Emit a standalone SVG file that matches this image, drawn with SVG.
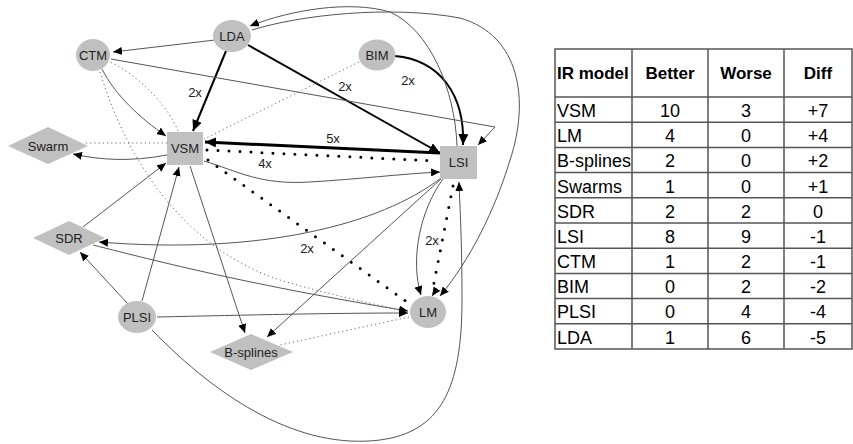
<svg xmlns="http://www.w3.org/2000/svg" width="853" height="444" viewBox="0 0 853 444">
<style>
.n{fill:#c0c0c0;stroke:none}
.nt{font-family:"Liberation Sans",Arial,sans-serif;font-size:13px;fill:#222;text-anchor:middle}
.lb{font-family:"Liberation Sans",Arial,sans-serif;font-size:13px;fill:#222;text-anchor:middle}
.e{fill:none;stroke:#555;stroke-width:1}
.eb{fill:none;stroke:#000;stroke-width:2}
.eb3{fill:none;stroke:#000;stroke-width:3}
.ed{fill:none;stroke:#666;stroke-width:1;stroke-dasharray:1.2 3}
.edb{fill:none;stroke:#000;stroke-width:3;stroke-dasharray:0 11;stroke-linecap:round}
.tg{stroke:#555;stroke-width:1.5;fill:none}
.th{font-family:"Liberation Sans",Arial,sans-serif;font-size:17px;font-weight:bold;fill:#000}
.td{font-family:"Liberation Sans",Arial,sans-serif;font-size:18px;fill:#000}
.c{text-anchor:middle}
</style>
<defs>
<marker id="a" markerUnits="userSpaceOnUse" markerWidth="10" markerHeight="8" refX="9" refY="4" orient="auto"><path d="M0,0 L9,4 L0,8 z" fill="#000"/></marker>
<marker id="ab" markerUnits="userSpaceOnUse" markerWidth="12" markerHeight="10" refX="11" refY="5" orient="auto"><path d="M0,0 L11,5 L0,10 z" fill="#000"/></marker>
</defs>
<rect width="853" height="444" fill="#fff"/>
<g id="edges">
<path class="e" d="M215,40 L113,52" marker-end="url(#a)"/>
<path class="eb" d="M226,51 L193,131" marker-end="url(#ab)"/>
<path class="eb" d="M248,45 L440,153" marker-end="url(#ab)"/>
<path class="eb" d="M395,56 C440,60 465,95 463,145" marker-end="url(#ab)"/>
<path class="ed" d="M359,62 L204,139"/>
<path class="e" d="M111,59 L495,127 L478,145" marker-end="url(#a)"/>
<path class="e" d="M102,69 C115,95 140,118 166,136" marker-end="url(#a)"/>
<path class="ed" d="M111,62 C145,80 170,110 178,131"/>
<path class="ed" d="M100,72 C130,170 190,250 280,280 C330,295 380,305 407,312"/>
<path class="ed" d="M167,143 L84,143"/>
<path class="e" d="M167,155 C130,162 100,160 73,154" marker-end="url(#a)"/>
<path class="eb3" d="M440,153 L205,142" marker-end="url(#ab)"/>
<path class="edb" d="M207,150 L437,161"/>
<path class="e" d="M204,161 C240,172 260,185 310,182 C360,179 400,174 440,172" marker-end="url(#a)"/>
<path class="edb" d="M208,160 L407,302"/>
<path class="e" d="M190,166 L245,333" marker-end="url(#a)"/>
<path class="e" d="M142,301 L179,167" marker-end="url(#a)"/>
<path class="e" d="M83,227 L166,163" marker-end="url(#a)"/>
<path class="e" d="M128,304 L80,252" marker-end="url(#a)"/>
<path class="e" d="M157,317 C250,315 330,313 408,313" marker-end="url(#a)"/>
<path class="e" d="M93,245 C160,262 250,285 408,311" marker-end="url(#a)"/>
<path class="e" d="M152,330 C220,400 300,450 380,440 C440,432 462,390 462,300 C462,240 460,210 459,182" marker-end="url(#a)"/>
<path class="e" d="M443,179 C420,210 410,260 421,295" marker-end="url(#a)"/>
<path class="edb" d="M453,186 L433,288"/>
<path class="e" d="M436,290 L432,296" marker-end="url(#a)"/>
<path class="e" d="M252,30 C300,15 390,5 460,18 C520,35 530,100 510,160 C495,210 470,260 440,296" marker-end="url(#a)"/>
<path class="e" d="M457,146 C455,90 430,30 390,12 C350,0 290,10 250,26" marker-end="url(#a)"/>
<path class="e" d="M441,179 L267,337" marker-end="url(#a)"/>
<path class="e" d="M441,178 C380,225 260,255 99,242" marker-end="url(#a)"/>
<path class="ed" d="M409,317 L280,345"/>
<text class="lb" x="195" y="97">2x</text>
<text class="lb" x="345" y="91">2x</text>
<text class="lb" x="408" y="85">2x</text>
<text class="lb" x="333" y="143">5x</text>
<text class="lb" x="265" y="168">4x</text>
<text class="lb" x="307" y="253">2x</text>
<text class="lb" x="432" y="245">2x</text>
</g>
<g id="LDA"><ellipse class="n" cx="232" cy="36" rx="19" ry="16"/><text class="nt" x="232" y="41">LDA</text></g>
<g id="CTM"><ellipse class="n" cx="93" cy="55" rx="17" ry="16"/><text class="nt" x="93" y="60">CTM</text></g>
<g id="BIM"><ellipse class="n" cx="377" cy="55" rx="18.5" ry="15.5"/><text class="nt" x="377" y="60">BIM</text></g>
<g id="VSM"><rect class="n" x="167" y="132" width="36" height="33"/><text class="nt" x="185" y="153">VSM</text></g>
<g id="LSI"><rect class="n" x="440" y="146" width="37" height="33"/><text class="nt" x="458.5" y="167">LSI</text></g>
<g id="Swarm"><path class="n" d="M8,146 L48,127 L88,146 L48,164 z"/><text class="nt" x="48" y="151">Swarm</text></g>
<g id="SDR"><path class="n" d="M33,238 L69,221 L105,238 L69,255 z"/><text class="nt" x="69" y="243">SDR</text></g>
<g id="PLSI"><ellipse class="n" cx="137" cy="317" rx="19" ry="16"/><text class="nt" x="137" y="322">PLSI</text></g>
<g id="B-splines"><path class="n" d="M210,352 L251,334 L293,352 L251,370 z"/><text class="nt" x="251" y="357">B-splines</text></g>
<g id="LM"><ellipse class="n" cx="428" cy="312" rx="18" ry="16"/><text class="nt" x="428" y="317">LM</text></g>
<g id="table">
<path class="tg" d="M555,49 H852 V349 H555 Z M632,49 V349 M708,49 V349 M784,49 V349 M555,97 H852 M555,122.2 H852 M555,147.4 H852 M555,172.6 H852 M555,197.8 H852 M555,223 H852 M555,248.2 H852 M555,273.4 H852 M555,298.6 H852 M555,323.8 H852"/>
<text class="th" x="557" y="79">IR model</text>
<text class="th c" x="670" y="79">Better</text>
<text class="th c" x="746" y="79">Worse</text>
<text class="th c" x="818" y="79">Diff</text>
<g class="td">
<text x="557" y="117">VSM</text><text class="c" x="670" y="117">10</text><text class="c" x="746" y="117">3</text><text class="c" x="818" y="117">+7</text>
<text x="557" y="142">LM</text><text class="c" x="670" y="142">4</text><text class="c" x="746" y="142">0</text><text class="c" x="818" y="142">+4</text>
<text x="557" y="167">B-splines</text><text class="c" x="670" y="167">2</text><text class="c" x="746" y="167">0</text><text class="c" x="818" y="167">+2</text>
<text x="557" y="193">Swarms</text><text class="c" x="670" y="193">1</text><text class="c" x="746" y="193">0</text><text class="c" x="818" y="193">+1</text>
<text x="557" y="218">SDR</text><text class="c" x="670" y="218">2</text><text class="c" x="746" y="218">2</text><text class="c" x="818" y="218">0</text>
<text x="557" y="243">LSI</text><text class="c" x="670" y="243">8</text><text class="c" x="746" y="243">9</text><text class="c" x="818" y="243">-1</text>
<text x="557" y="268">CTM</text><text class="c" x="670" y="268">1</text><text class="c" x="746" y="268">2</text><text class="c" x="818" y="268">-1</text>
<text x="557" y="293">BIM</text><text class="c" x="670" y="293">0</text><text class="c" x="746" y="293">2</text><text class="c" x="818" y="293">-2</text>
<text x="557" y="318">PLSI</text><text class="c" x="670" y="318">0</text><text class="c" x="746" y="318">4</text><text class="c" x="818" y="318">-4</text>
<text x="557" y="344">LDA</text><text class="c" x="670" y="344">1</text><text class="c" x="746" y="344">6</text><text class="c" x="818" y="344">-5</text>
</g>
</g>
</svg>
